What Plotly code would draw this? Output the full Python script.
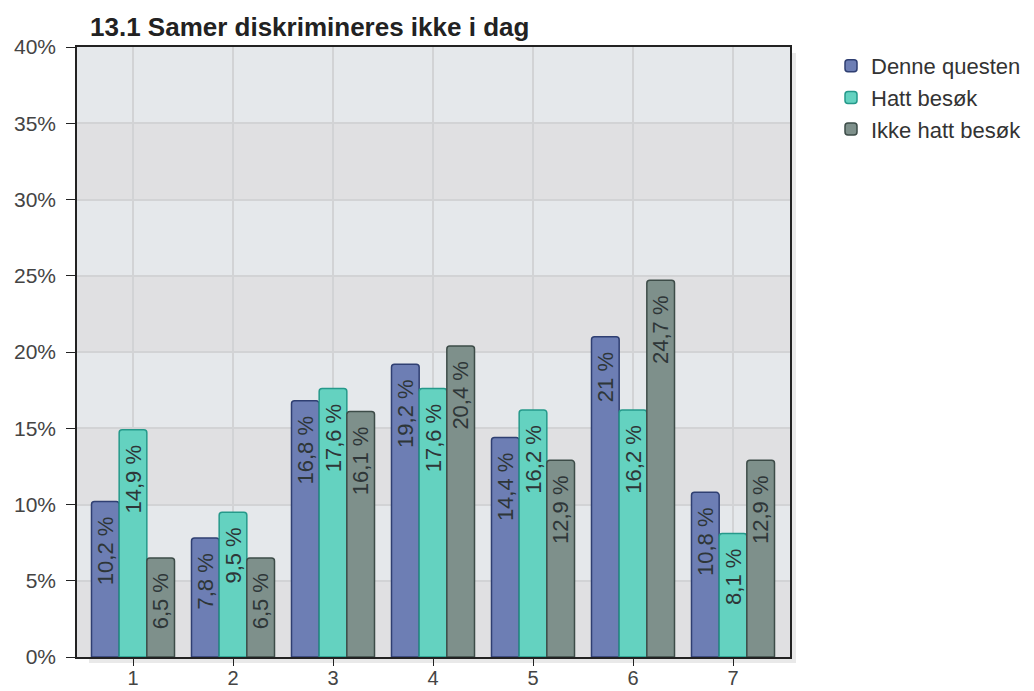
import plotly.graph_objects as go

categories = ["1", "2", "3", "4", "5", "6", "7"]
denne_questen = [10.2, 7.8, 16.8, 19.2, 14.4, 21.0, 10.8]
hatt_besok = [14.9, 9.5, 17.6, 17.6, 16.2, 16.2, 8.1]
ikke_hatt_besok = [6.5, 6.5, 16.1, 20.4, 12.9, 24.7, 12.9]
y_ticks = [0, 5, 10, 15, 20, 25, 30, 35, 40]
y_tick_labels = ["0%", "5%", "10%", "15%", "20%", "25%", "30%", "35%", "40%"]

series = [
    ("Denne questen", denne_questen, "#6d7eb4", "#2f3f72"),
    ("Hatt besøk", hatt_besok, "#64d2c0", "#25998a"),
    ("Ikke hatt besøk", ikke_hatt_besok, "#7e908b", "#3d4c48"),
]

FONT = "Liberation Sans, Arial, sans-serif"
W, H = 1018, 683  # page body has an 8px margin
PW, PH = 713, 610  # plot area size in px


def fmt(v):
    s = ("%.1f" % v).rstrip("0").rstrip(".")
    return s.replace(".", ",") + " %" + "\u00a0\u00a0"


xs = [int(c) for c in categories]
fig = go.Figure()
for name, vals, fill, line in series:
    fig.add_trace(go.Bar(
        name=name, x=xs, y=vals,
        marker=dict(color=fill, line=dict(color=line, width=1.5), cornerradius=3),
        text=[fmt(v) for v in vals],
        textposition="inside", insidetextanchor="end", textangle=-90,
        textfont=dict(family=FONT, size=22, color="#2e3638"),
        hoverinfo="skip",
    ))

shapes = []
for lo in [0, 10, 20, 30]:
    shapes.append(dict(type="rect", xref="paper", yref="y", x0=0, x1=1, y0=lo, y1=lo + 5,
                       fillcolor="#e0e0e2", line=dict(width=0), layer="below"))
# soft drop shadow right and below the plot frame
shapes.append(dict(type="rect", xref="paper", yref="paper", x0=1 + 1 / PW, x1=1 + 6 / PW,
                   y0=-6 / PH, y1=1 - 6 / PH, fillcolor="#e9e9e9", line=dict(width=0), layer="below"))
shapes.append(dict(type="rect", xref="paper", yref="paper", x0=12 / PW, x1=1 + 6 / PW,
                   y0=-6 / PH, y1=-1 / PH, fillcolor="#e9e9e9", line=dict(width=0), layer="below"))

fig.update_layout(
    width=W, height=H,
    margin=dict(l=69, r=236, t=39, b=34, autoexpand=False),
    paper_bgcolor="white", plot_bgcolor="#e5e8eb",
    barmode="group", bargap=0.17, bargroupgap=0.0,
    uniformtext=dict(mode="show", minsize=20),
    shapes=shapes,
    font=dict(family=FONT, color="#444"),
    title=dict(text="<b>13.1 Samer diskrimineres ikke i dag</b>", x=82 / W, xanchor="left",
               xref="container", y=1 - 19 / H, yref="container", yanchor="middle",
               font=dict(size=26, color="#222", family=FONT)),
    legend=dict(x=823 / W, xref="container", y=1 - 37 / H, yref="container",
                xanchor="left", yanchor="top", tracegroupgap=0,
                font=dict(size=22, color="#333", family=FONT), itemwidth=30, traceorder="normal",
                bgcolor="rgba(0,0,0,0)"),
    showlegend=True,
)
fig.update_xaxes(
    range=[0.44, 7.57], tickvals=xs, ticktext=categories, automargin=False,
    showgrid=True, gridcolor="#d2d3d5", gridwidth=1.5,
    showline=True, linecolor="#222", linewidth=1.5, mirror=True,
    ticks="outside", ticklen=7, tickcolor="#222",
    tickfont=dict(size=20, color="#444", family=FONT), zeroline=False,
)
try:
    fig.update_xaxes(ticklabelstandoff=-5)
except Exception:
    fig.update_xaxes(ticklen=4, tickfont=dict(size=17))
fig.update_yaxes(
    range=[0, 40], tickvals=y_ticks, ticktext=y_tick_labels, automargin=False,
    showgrid=True, gridcolor="#d2d3d5", gridwidth=1.5,
    showline=True, linecolor="#222", linewidth=1.5, mirror=True,
    ticks="outside", ticklen=9, tickcolor="#222", ticklabelstandoff=6,
    tickfont=dict(size=21, color="#444", family=FONT), zeroline=False,
)
fig.write_html("out.html")
